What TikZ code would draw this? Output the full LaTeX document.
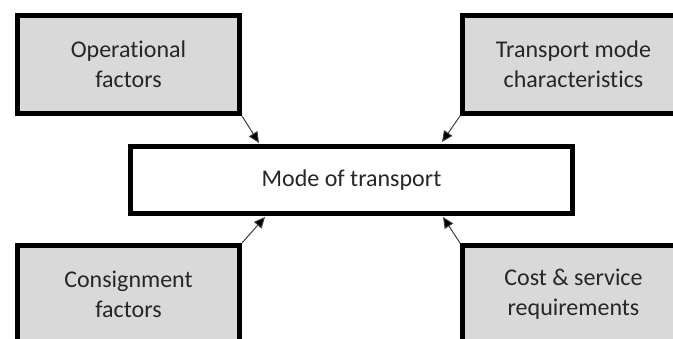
\documentclass[tikz,border=0pt]{standalone}
\usepackage{fontspec}
\setmainfont{Carlito}[RawFeature={-liga}]
\usetikzlibrary{arrows.meta,calc}
\definecolor{boxgray}{HTML}{D9D9D9}
\definecolor{txt}{HTML}{262626}
\tikzset{
  factorbox/.style={draw=black, line width=5pt, fill=boxgray, minimum width=222pt, minimum height=98pt,
    inner sep=0pt, align=center, text=txt, font=\fontsize{24pt}{30pt}\selectfont},
  mainbox/.style={draw=black, line width=5pt, fill=white, minimum width=442pt, minimum height=67pt,
    inner sep=0pt, align=center, text=txt, font=\fontsize{24pt}{30pt}\selectfont},
  arr/.style={draw=black!75, line width=1pt, -{Triangle[length=11pt,width=10pt,fill=black]}}
}
\begin{document}
\begin{tikzpicture}[x=1pt,y=-1pt]
\clip (0,0) rectangle (673,338);
\fill[white] (0,0) rectangle (673,338);
\node[mainbox] (c) at (351.5,180) {Mode of transport};
\node[factorbox] (tl) at (128.5,64.5) {Operational\\factors};
\node[factorbox] (tr) at (573.5,64.5) {Transport mode\\characteristics};
\node[factorbox] (bl) at (128.5,294.5) {Consignment\\factors};
\node[factorbox] (br) at (573.5,294.5) {Cost \& service\\requirements};
\coordinate (ctl) at ($(c.north west)+(131,-1)$);
\coordinate (ctr) at ($(c.north west)+(314,-2)$);
\coordinate (cbl) at ($(c.south west)+(137,1)$);
\coordinate (cbr) at ($(c.south west)+(315,1)$);
\draw[arr] (tl.south east) -- (ctl);
\draw[arr] (tr.south west) -- (ctr);
\draw[arr] (bl.north east) -- (cbl);
\draw[arr] (br.north west) -- (cbr);
\end{tikzpicture}
\end{document}
